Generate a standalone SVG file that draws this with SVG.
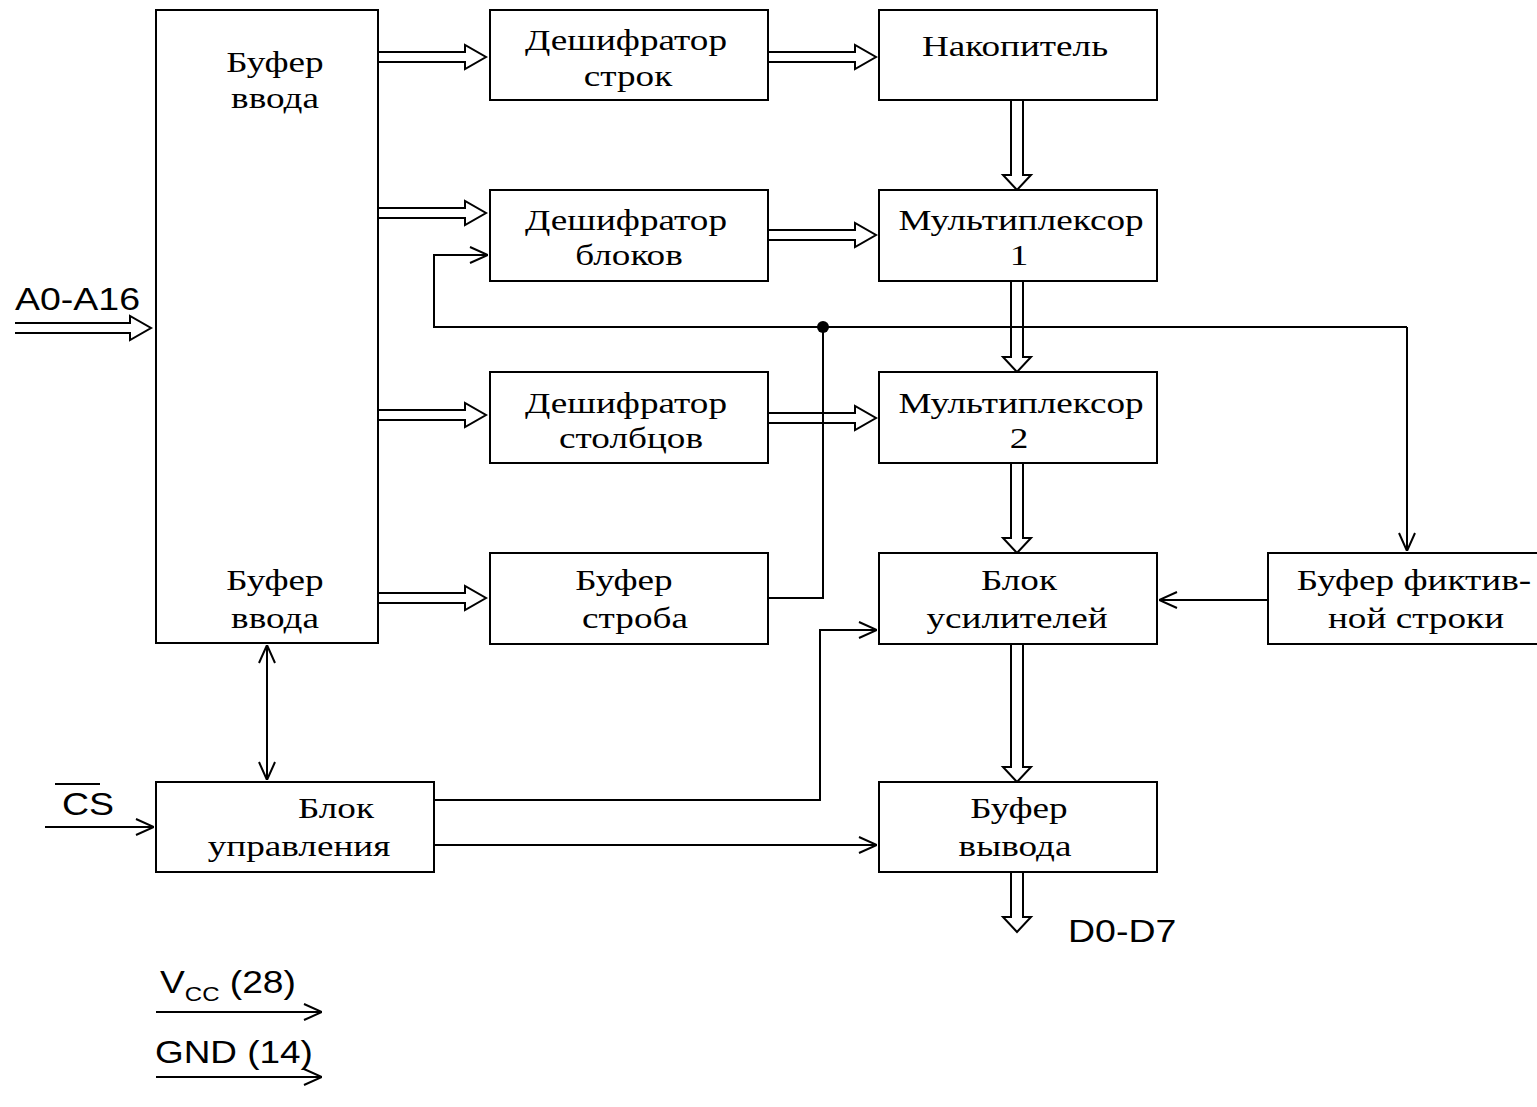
<svg xmlns="http://www.w3.org/2000/svg" width="1537" height="1107" viewBox="0 0 1537 1107">
<style>
.box{fill:#fff;stroke:#000;stroke-width:2}
.t{font-family:"Liberation Serif","Times New Roman",serif;font-size:30px;fill:#000;text-anchor:middle}
.s{font-family:"Liberation Sans",Arial,sans-serif;font-size:31px;fill:#000}
.w{fill:none;stroke:#000;stroke-width:2}
.bus{fill:#fff;stroke:#000;stroke-width:2;stroke-linejoin:miter}
</style>
<defs>
<marker id="ah" viewBox="0 0 20 20" refX="20" refY="10" markerWidth="20" markerHeight="20" markerUnits="userSpaceOnUse" orient="auto-start-reverse">
<path d="M2 2 L20 10 L2 18" fill="none" stroke="#000" stroke-width="2"/>
</marker>
</defs>
<rect width="1537" height="1107" fill="#fff"/>

<g id="connectors">
<path class="bus" d="M378 52 H465 V45 L486 57 L465 69 V62 H378"/>
<path class="bus" d="M768 52 H855 V45 L876 57 L855 69 V62 H768"/>
<path class="bus" d="M378 208 H465 V201 L486 213 L465 225 V218 H378"/>
<path class="bus" d="M768 230 H855 V223 L876 235 L855 247 V240 H768"/>
<path class="bus" d="M378 410 H465 V403 L486 415 L465 427 V420 H378"/>
<path class="bus" d="M378 593 H465 V586 L486 598 L465 610 V603 H378"/>
<path class="bus" d="M15 323 H130 V316 L151 328 L130 340 V333 H15"/>
<path class="bus" d="M1011 100 V175 H1003 L1017 190 L1031 175 H1023 V100"/>
<path class="bus" d="M1011 281 V357 H1003 L1017 372 L1031 357 H1023 V281"/>
<path class="bus" d="M1011 463 V538 H1003 L1017 553 L1031 538 H1023 V463"/>
<path class="bus" d="M1011 644 V767 H1003 L1017 782 L1031 767 H1023 V644"/>
<path class="bus" d="M1011 872 V917 H1003 L1017 932 L1031 917 H1023 V872"/>
<path class="w" d="M1407 327 H434 V255 H488" marker-end="url(#ah)"/>
<path class="w" d="M1407 327 V551" marker-end="url(#ah)"/>
<path class="w" d="M768 598 H823 V327"/>
<path class="bus" d="M768 413 H855 V406 L876 418 L855 430 V423 H768"/>
<path class="w" d="M823 400 V440"/>
<circle cx="823" cy="327" r="6" fill="#000"/>
<path class="w" d="M1268 600 H1159" marker-end="url(#ah)"/>
<path class="w" d="M267 645 V780" marker-start="url(#ah)" marker-end="url(#ah)"/>
<path class="w" d="M45 827 H154" marker-end="url(#ah)"/>
<path class="w" d="M434 800 H820 V630 H877" marker-end="url(#ah)"/>
<path class="w" d="M434 845 H877" marker-end="url(#ah)"/>
<path class="w" d="M156 1012 H322" marker-end="url(#ah)"/>
<path class="w" d="M156 1077 H322" marker-end="url(#ah)"/>
</g>

<g id="bufer-vvoda">
<rect class="box" x="156" y="10" width="222" height="633"/>
<text class="t" transform="translate(275,72) scale(1.24,1)">Буфер</text>
<text class="t" transform="translate(275,108) scale(1.24,1)">ввода</text>
<text class="t" transform="translate(275,590) scale(1.24,1)">Буфер</text>
<text class="t" transform="translate(275,628) scale(1.24,1)">ввода</text>
</g>
<g id="desh-strok">
<rect class="box" x="490" y="10" width="278" height="90"/>
<text class="t" transform="translate(626,50) scale(1.24,1)">Дешифратор</text>
<text class="t" transform="translate(628,86) scale(1.24,1)">строк</text>
</g>
<g id="nakopitel">
<rect class="box" x="879" y="10" width="278" height="90"/>
<text class="t" transform="translate(1015,56) scale(1.24,1)">Накопитель</text>
</g>
<g id="desh-blokov">
<rect class="box" x="490" y="190" width="278" height="91"/>
<text class="t" transform="translate(626,230) scale(1.24,1)">Дешифратор</text>
<text class="t" transform="translate(629,265) scale(1.24,1)">блоков</text>
</g>
<g id="mux1">
<rect class="box" x="879" y="190" width="278" height="91"/>
<text class="t" transform="translate(1021,230) scale(1.24,1)">Мультиплексор</text>
<text class="t" transform="translate(1019,265) scale(1.24,1)">1</text>
</g>
<g id="desh-stolbcov">
<rect class="box" x="490" y="372" width="278" height="91"/>
<text class="t" transform="translate(626,413) scale(1.24,1)">Дешифратор</text>
<text class="t" transform="translate(631,448) scale(1.24,1)">столбцов</text>
</g>
<g id="mux2">
<rect class="box" x="879" y="372" width="278" height="91"/>
<text class="t" transform="translate(1021,413) scale(1.24,1)">Мультиплексор</text>
<text class="t" transform="translate(1019,448) scale(1.24,1)">2</text>
</g>
<g id="bufer-stroba">
<rect class="box" x="490" y="553" width="278" height="91"/>
<text class="t" transform="translate(624,590) scale(1.24,1)">Буфер</text>
<text class="t" transform="translate(635,628) scale(1.24,1)">строба</text>
</g>
<g id="blok-usiliteley">
<rect class="box" x="879" y="553" width="278" height="91"/>
<text class="t" transform="translate(1019,590) scale(1.24,1)">Блок</text>
<text class="t" transform="translate(1017,628) scale(1.24,1)">усилителей</text>
</g>
<g id="bufer-fiktivnoy">
<rect class="box" x="1268" y="553" width="275" height="91"/>
<text class="t" transform="translate(1414,590) scale(1.24,1)">Буфер фиктив-</text>
<text class="t" transform="translate(1416,628) scale(1.24,1)">ной строки</text>
</g>
<g id="blok-upravleniya">
<rect class="box" x="156" y="782" width="278" height="90"/>
<text class="t" transform="translate(336,818) scale(1.24,1)">Блок</text>
<text class="t" transform="translate(299,856) scale(1.24,1)">управления</text>
</g>
<g id="bufer-vyvoda">
<rect class="box" x="879" y="782" width="278" height="90"/>
<text class="t" transform="translate(1019,818) scale(1.24,1)">Буфер</text>
<text class="t" transform="translate(1015,856) scale(1.24,1)">вывода</text>
</g>

<g id="labels">
<text class="s" transform="translate(15,310) scale(1.21,1)">A0-A16</text>
<text class="s" transform="translate(62,815) scale(1.21,1)">CS</text>
<line x1="55" y1="784" x2="100" y2="784" stroke="#000" stroke-width="2"/>
<text class="s" transform="translate(1068,942) scale(1.21,1)">D0-D7</text>
<text class="s" transform="translate(160,993) scale(1.2,1)">V<tspan font-size="20" dy="8">CC</tspan><tspan dy="-8"> (28)</tspan></text>
<text class="s" transform="translate(155,1063) scale(1.19,1)">GND (14)</text>
</g>
</svg>
